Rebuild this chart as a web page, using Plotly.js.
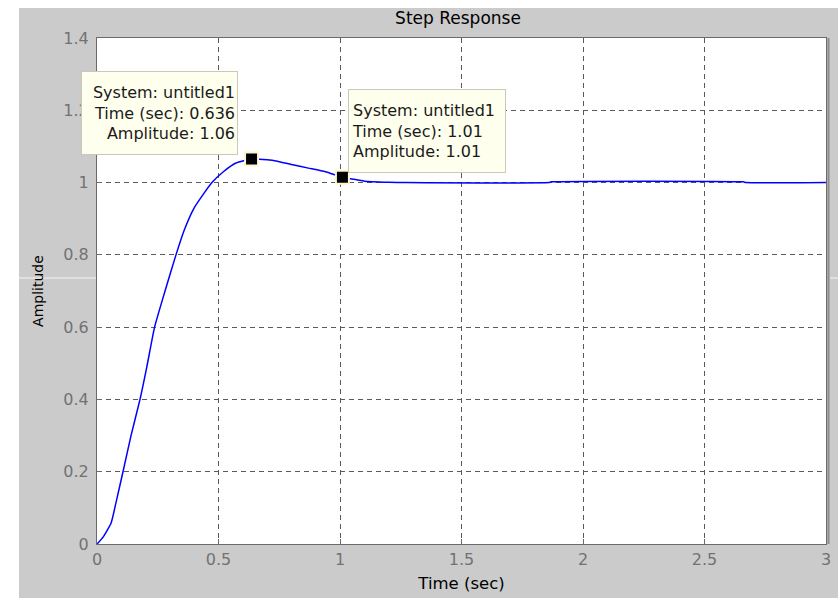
<!DOCTYPE html>
<html>
<head>
<meta charset="utf-8">
<script src="https://cdn.plot.ly/plotly-3.0.1.min.js"></script>
<style>html,body{margin:0;padding:0;background:#fff;}#chart{width:838px;height:598px;}</style>
</head>
<body>
<div id="chart"></div>
<script>
// Step response samples
const time = [0, 0.025, 0.058, 0.08, 0.107, 0.14, 0.177, 0.205, 0.237, 0.28, 0.325, 0.36, 0.4, 0.44, 0.473,
  0.52, 0.572, 0.636, 0.7, 0.737, 0.8, 0.87, 0.94, 1.01, 1.05, 1.1, 1.2, 1.27, 1.86, 1.87, 2.66, 2.67, 3.0];
const amplitude = [0, 0.019, 0.058, 0.12, 0.2, 0.3, 0.4, 0.49, 0.6, 0.7, 0.8, 0.87, 0.93, 0.97, 1.0,
  1.03, 1.054, 1.065, 1.063, 1.06, 1.05, 1.04, 1.03, 1.015, 1.01, 1.004, 1.001, 1.0, 1.0, 1.002, 1.002, 1.0, 1.0];

// Data tips
const tipTime = [0.636, 1.01];
const tipAmp = [1.065, 1.015];
const tipTimeLabel = ["0.636", "1.01"];
const tipAmpLabel = ["1.06", "1.01"];
const systemName = "untitled1";

const xTicks = [0, 0.5, 1, 1.5, 2, 2.5, 3];
const xTickText = ["0", "0.5", "1", "1.5", "2", "2.5", "3"];
const yTicks = [0, 0.2, 0.4, 0.6, 0.8, 1, 1.2, 1.4];
const yTickText = ["0", "0.2", "0.4", "0.6", "0.8", "1", "1.2", "1.4"];

const FONT = "DejaVu Sans, Verdana, sans-serif";

const traces = [
  {
    x: time, y: amplitude, type: "scatter", mode: "lines",
    line: {color: "#0000ff", width: 1.5, shape: "spline", smoothing: 0.5},
    hoverinfo: "skip", cliponaxis: true
  },
  {
    x: tipTime, y: tipAmp, type: "scatter", mode: "markers",
    marker: {symbol: "square", size: 13, color: "#000000", line: {color: "#fbf6cf", width: 2}},
    hoverinfo: "skip", cliponaxis: false
  }
];

function tipText(i) {
  return "System: " + systemName + "<br>Time (sec): " + tipTimeLabel[i] + "<br>Amplitude: " + tipAmpLabel[i];
}

const gridStyle = {
  showgrid: true, gridcolor: "#5a5a5a", gridwidth: 1, griddash: "5px,4px",
  showline: true, linecolor: "#6a6a6a", linewidth: 1, mirror: true,
  zeroline: false, ticks: "inside", ticklen: 5, tickcolor: "#6a6a6a",
  tickfont: {family: FONT, size: 16, color: "#727272"}, fixedrange: true
};

const px2x = p => (p - 97) / 729;
const py2y = p => (544 - p) / 506;

const layout = {
  width: 838, height: 598,
  margin: {l: 97, r: 12, t: 38, b: 54, pad: 0},
  paper_bgcolor: "#cbcbcb", plot_bgcolor: "#ffffff",
  showlegend: false,
  font: {family: FONT, size: 16, color: "#000"},
  title: {text: "Step Response", font: {family: FONT, size: 17, color: "#000"},
          x: 458 / 838, xref: "container", xanchor: "center", y: 1 - 18 / 598, yref: "container", yanchor: "middle"},
  xaxis: Object.assign({}, gridStyle, {
    range: [0, 3], tickvals: xTicks, ticktext: xTickText, ticklabelstandoff: 1,
    title: {text: "Time (sec)", font: {family: FONT, size: 16.5, color: "#000"}, standoff: 9}
  }),
  yaxis: Object.assign({}, gridStyle, {
    range: [0, 1.4], tickvals: yTicks, ticktext: yTickText, ticklabelstandoff: 4,
    title: {text: "Amplitude", font: {family: FONT, size: 14, color: "#000"}, standoff: 16}
  }),
  shapes: [
    // white strips outside the grey figure
    {type: "rect", xref: "paper", yref: "paper", x0: -0.14, x1: px2x(19), y0: -0.12, y1: 1.08,
     fillcolor: "#ffffff", line: {width: 0}, layer: "above"},
    {type: "rect", xref: "paper", yref: "paper", x0: -0.14, x1: 1.02, y0: py2y(8), y1: 1.08,
     fillcolor: "#ffffff", line: {width: 0}, layer: "above"},
    // lighter second line of the right border
    {type: "line", xref: "paper", yref: "paper", x0: px2x(828.5), x1: px2x(828.5), y0: 0, y1: 1,
     line: {color: "#8c8c8c", width: 2}, layer: "above"},
    // faint white scan line across the grey frame
    {type: "line", xref: "paper", yref: "paper", x0: px2x(19), x1: px2x(96), y0: py2y(278), y1: py2y(278),
     line: {color: "#f4f4f4", width: 1}, layer: "above"},
    {type: "line", xref: "paper", yref: "paper", x0: px2x(830), x1: px2x(838), y0: py2y(278), y1: py2y(278),
     line: {color: "#f4f4f4", width: 1}, layer: "above"}
  ],
  annotations: [
    {xref: "paper", yref: "paper", x: px2x(81), y: py2y(71), xanchor: "left", yanchor: "top",
     text: tipText(0), showarrow: false, align: "right", width: 151, height: 78,
     bgcolor: "#ffffee", bordercolor: "#c8c8bc", borderwidth: 1, borderpad: 2,
     font: {family: FONT, size: 16, color: "#1a1a1a"}},
    {xref: "paper", yref: "paper", x: px2x(348), y: py2y(89), xanchor: "left", yanchor: "top",
     text: tipText(1), showarrow: false, align: "left", width: 150, height: 76,
     bgcolor: "#ffffee", bordercolor: "#c8c8bc", borderwidth: 1, borderpad: 3,
     font: {family: FONT, size: 16, color: "#1a1a1a"}}
  ]
};

Plotly.newPlot("chart", traces, layout, {displayModeBar: false, staticPlot: true});
</script>
</body>
</html>
